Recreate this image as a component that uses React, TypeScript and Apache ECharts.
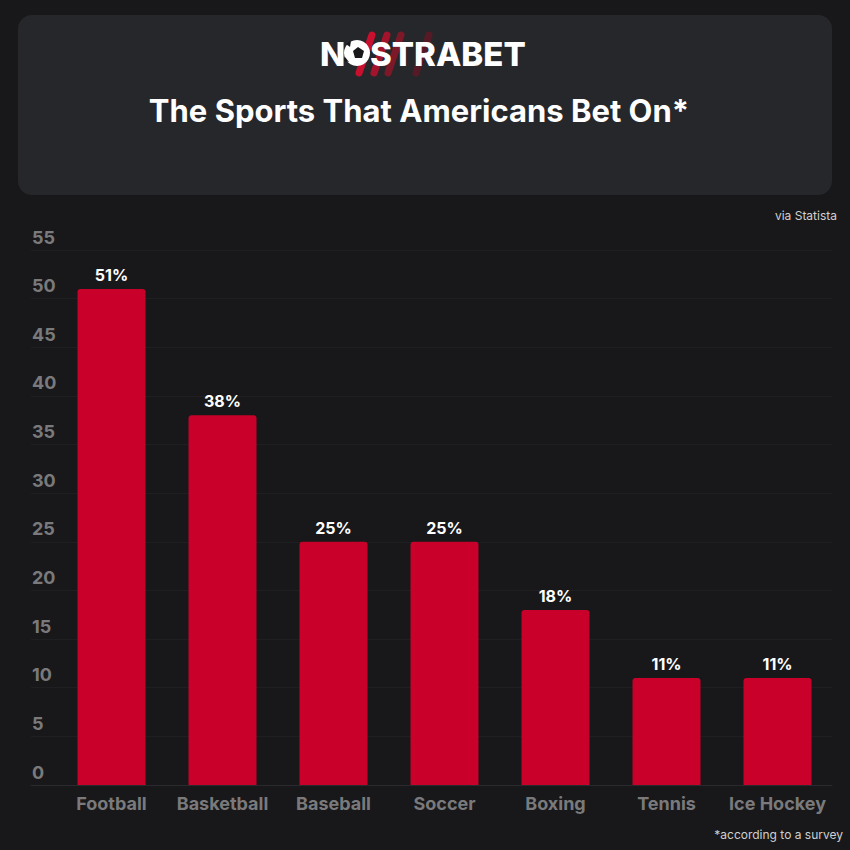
import React, { useEffect, useRef } from "react";
import * as echarts from "echarts";

const categories = ["Football", "Basketball", "Baseball", "Soccer", "Boxing", "Tennis", "Ice Hockey"];
const values = [51, 38, 25, 25, 18, 11, 11];
const yMin = 0;
const yMax = 55;
const yStep = 5;

const FONT = "Inter, 'Open Sans', sans-serif";

export default function App() {
  const ref = useRef<HTMLDivElement>(null);
  useEffect(() => {
    if (!ref.current) return;
    const chart = echarts.init(ref.current, null, { renderer: "svg" });
    const stripe = (x1: number, x2: number, color: string) => ({
      type: "line",
      shape: { x1, y1: 35, x2, y2: 73 },
      style: { stroke: color, lineWidth: 7, lineCap: "round" },
      z: 10,
    });
    const option: any = {
      animation: false,
      backgroundColor: "#18181a",
      graphic: [
        {
          type: "rect",
          shape: { x: 18, y: 15, width: 814, height: 180, r: 14 },
          style: { fill: "#26272b" },
          z: 1,
        },
        stripe(372, 359, "#c8102e"),
        stripe(387, 374, "#a3142c"),
        stripe(401, 388, "#7d1829"),
        stripe(429, 416, "#561a26"),
        {
          type: "text",
          x: 320,
          y: 54,
          style: { text: "N", fill: "#ffffff", font: `800 33px ${FONT}`, textVerticalAlign: "middle", textAlign: "left" },
          z: 20,
        },
        {
          type: "circle",
          shape: { cx: 357, cy: 53, r: 13 },
          style: { fill: "#ffffff" },
          z: 20,
        },
        {
          type: "polygon",
          shape: { points: [[358, 47], [364, 51], [362, 58], [355, 58], [353, 51]] },
          style: { fill: "#18181a" },
          z: 21,
        },
        {
          type: "polygon",
          shape: { points: [[346, 44], [351, 41], [350, 47]] },
          style: { fill: "#18181a" },
          z: 21,
        },
        {
          type: "polygon",
          shape: { points: [[345, 57], [349, 62], [344, 61]] },
          style: { fill: "#18181a" },
          z: 21,
        },
        {
          type: "text",
          x: 370,
          y: 54,
          style: { text: "STRABET", fill: "#ffffff", font: `800 33px ${FONT}`, textVerticalAlign: "middle", textAlign: "left" },
          z: 20,
        },
        {
          type: "text",
          x: 419,
          y: 110,
          style: {
            text: "The Sports That Americans Bet On*",
            fill: "#ffffff",
            font: `700 31px ${FONT}`,
            textAlign: "center",
            textVerticalAlign: "middle",
          },
          z: 20,
        },
        {
          type: "text",
          x: 837,
          y: 215,
          style: { text: "via Statista", fill: "#d0d0d0", font: `400 12px ${FONT}`, textAlign: "right", textVerticalAlign: "middle" },
          z: 20,
        },
        {
          type: "text",
          x: 843,
          y: 834,
          style: { text: "*according to a survey", fill: "#d0d0d0", font: `400 12px ${FONT}`, textAlign: "right", textVerticalAlign: "middle" },
          z: 20,
        },
      ],
      grid: [
        { left: 31, right: 18, top: 250, bottom: 65 },
        { left: 56, right: 17, top: 250, bottom: 65 },
      ],
      xAxis: [
        {
          gridIndex: 0,
          type: "category",
          data: categories,
          axisLine: { show: true, lineStyle: { color: "#2a2a2e", width: 1 } },
          axisTick: { show: false },
          axisLabel: { show: false },
        },
        {
          gridIndex: 1,
          type: "category",
          data: categories,
          axisLine: { show: false },
          axisTick: { show: false },
          axisLabel: { interval: 0, color: "#7a7a7c", fontWeight: 700, fontSize: 18, fontFamily: FONT, margin: 9 },
        },
      ],
      yAxis: [
        {
          gridIndex: 0,
          type: "value",
          min: yMin,
          max: yMax,
          interval: yStep,
          axisLine: { show: false },
          axisTick: { show: false },
          splitLine: { show: true, lineStyle: { color: "#1f1f22", width: 1 } },
          axisLabel: {
            inside: true,
            margin: 1,
            color: "#7a7a7c",
            fontWeight: 700,
            fontSize: 18,
            fontFamily: FONT,
            verticalAlign: "bottom",
            padding: [0, 0, 4, 0],
          },
        },
        {
          gridIndex: 1,
          type: "value",
          min: yMin,
          max: yMax,
          interval: yStep,
          show: false,
        },
      ],
      series: [
        {
          type: "bar",
          xAxisIndex: 1,
          yAxisIndex: 1,
          data: values,
          barWidth: 68,
          itemStyle: { color: "#c8002a", borderRadius: [3, 3, 0, 0] },
          label: {
            show: true,
            position: "top",
            distance: 6,
            formatter: "{c}%",
            color: "#ffffff",
            fontWeight: 700,
            fontSize: 16,
            fontFamily: FONT,
          },
        },
      ],
    };
    chart.setOption(option);
    return () => chart.dispose();
  }, []);
  return (
    <div
      ref={ref}
      style={{ position: "fixed", left: 0, top: 0, width: 850, height: 850 }}
    />
  );
}
